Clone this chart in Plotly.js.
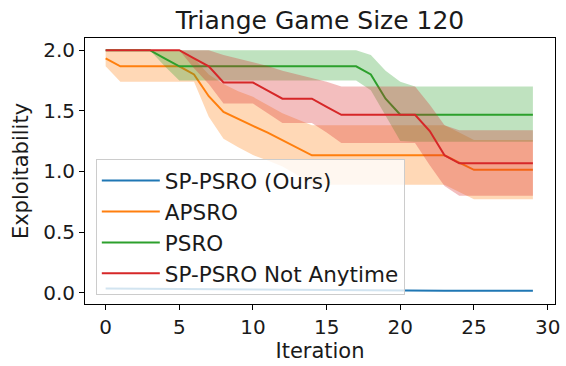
<!DOCTYPE html>
<html>
<head>
<meta charset="utf-8">
<script src="https://cdn.plot.ly/plotly-3.0.1.min.js"></script>
<style>
html,body{margin:0;padding:0;background:#fff;}
#chart{width:566px;height:366px;}
</style>
</head>
<body>
<div id="chart"></div>
<script>
const iterations = [0,1,2,3,4,5,6,7,8,9,10,11,12,13,14,15,16,17,18,19,20,21,22,23,24,25,26,27,28,29];

const spPsro = [0.034,0.033,0.032,0.031,0.030,0.029,0.028,0.027,0.026,0.025,0.024,0.023,0.022,0.021,0.020,0.019,0.018,0.017,0.017,0.017,0.017,0.017,0.017,0.017,0.017,0.017,0.017,0.017,0.017,0.017];

const apsro      = [1.933,1.867,1.867,1.867,1.867,1.867,1.80,1.62,1.49,1.43,1.375,1.32,1.26,1.20,1.133,1.133,1.133,1.133,1.133,1.133,1.133,1.133,1.133,1.133,1.073,1.013,1.013,1.013,1.013,1.013];
const apsroUpper = [2.0,2.0,2.0,2.0,2.0,2.0,1.93,1.80,1.72,1.66,1.615,1.55,1.48,1.43,1.38,1.38,1.38,1.38,1.38,1.38,1.38,1.38,1.38,1.38,1.32,1.26,1.26,1.26,1.26,1.26];
const apsroLower = [1.867,1.74,1.74,1.74,1.74,1.74,1.74,1.45,1.27,1.20,1.135,1.09,1.04,0.97,0.89,0.89,0.89,0.89,0.89,0.89,0.89,0.89,0.89,0.89,0.83,0.77,0.77,0.77,0.77,0.77];

const psro      = [2.0,2.0,2.0,2.0,1.933,1.867,1.867,1.867,1.867,1.867,1.867,1.867,1.867,1.867,1.867,1.867,1.867,1.867,1.80,1.60,1.467,1.467,1.467,1.467,1.467,1.467,1.467,1.467,1.467,1.467];
const psroUpper = [2.0,2.0,2.0,2.0,2.0,2.0,2.0,2.0,2.0,2.0,2.0,2.0,2.0,2.0,2.0,2.0,2.0,2.0,1.96,1.83,1.74,1.70,1.70,1.70,1.70,1.70,1.70,1.70,1.70,1.70];
const psroLower = [2.0,2.0,2.0,2.0,1.87,1.75,1.75,1.75,1.75,1.75,1.75,1.75,1.75,1.75,1.75,1.75,1.75,1.75,1.67,1.46,1.25,1.245,1.245,1.245,1.245,1.245,1.245,1.245,1.245,1.245];

const notAnytime      = [2.0,2.0,2.0,2.0,2.0,2.0,1.933,1.867,1.733,1.733,1.733,1.667,1.60,1.60,1.60,1.533,1.467,1.467,1.467,1.467,1.467,1.467,1.333,1.133,1.067,1.067,1.067,1.067,1.067,1.067];
const notAnytimeUpper = [2.0,2.0,2.0,2.0,2.0,2.0,2.0,2.0,1.96,1.93,1.90,1.87,1.83,1.80,1.77,1.74,1.70,1.70,1.70,1.70,1.70,1.70,1.55,1.38,1.34,1.34,1.34,1.34,1.34,1.34];
const notAnytimeLower = [2.0,2.0,2.0,2.0,2.0,2.0,1.85,1.72,1.56,1.56,1.56,1.48,1.40,1.40,1.40,1.32,1.235,1.235,1.235,1.235,1.235,1.235,1.05,0.88,0.80,0.80,0.80,0.80,0.80,0.80];

const seriesNames = ['SP-PSRO (Ours)','APSRO','PSRO','SP-PSRO Not Anytime'];
const xTickVals = [0,5,10,15,20,25,30];
const yTickVals = [0.0,0.5,1.0,1.5,2.0];
const yTickText = ['0.0','0.5','1.0','1.5','2.0'];

const FONT = 'DejaVu Sans, sans-serif';
const TXT = '#1a1a1a';

function band(lower, upper, fill){
  return [
    {x: iterations, y: lower, type:'scatter', mode:'lines', line:{width:0, color:'rgba(0,0,0,0)'}, showlegend:false, hoverinfo:'skip'},
    {x: iterations, y: upper, type:'scatter', mode:'lines', line:{width:0, color:'rgba(0,0,0,0)'}, fill:'tonexty', fillcolor:fill, showlegend:false, hoverinfo:'skip'}
  ];
}
function line(y, name, color){
  return {x: iterations, y: y, type:'scatter', mode:'lines', name: name, line:{color: color, width:2}};
}

const traces = [].concat(
  [line(spPsro, seriesNames[0], '#1f77b4')],
  band(apsroLower, apsroUpper, 'rgba(255,127,14,0.3)'),
  [line(apsro, seriesNames[1], '#ff7f0e')],
  band(psroLower, psroUpper, 'rgba(44,160,44,0.3)'),
  [line(psro, seriesNames[2], '#2ca02c')],
  band(notAnytimeLower, notAnytimeUpper, 'rgba(214,39,40,0.3)'),
  [line(notAnytime, seriesNames[3], '#d62728')]
);

const layout = {
  width: 566, height: 366,
  margin: {l:85, r:11, t:38, b:62, pad:0},
  paper_bgcolor:'#ffffff', plot_bgcolor:'#ffffff',
  font: {family: FONT, color: TXT, size: 20},
  title: {text:'Triange Game Size 120', font:{family:FONT, size:25, color:TXT}, x:0.5, xref:'paper', y:1-20/366, yref:'container', yanchor:'middle'},
  xaxis: {
    range:[-1.4, 30.5], tickmode:'array', tickvals:xTickVals,
    showgrid:false, zeroline:false, showline:true, linecolor:'#000', linewidth:1, mirror:true,
    ticks:'outside', ticklen:5, tickwidth:1, tickcolor:'#000',
    tickfont:{family:FONT, size:20, color:TXT},
    title:{text:'Iteration', font:{family:FONT, size:21, color:TXT}, standoff:1},
    automargin:false
  },
  yaxis: {
    range:[-0.093, 2.1], tickmode:'array', tickvals:yTickVals, ticktext:yTickText,
    showgrid:false, zeroline:false, showline:true, linecolor:'#000', linewidth:1, mirror:true,
    ticks:'outside', ticklen:5, tickwidth:1, tickcolor:'#000',
    tickfont:{family:FONT, size:20, color:TXT},
    title:{text:'Exploitability', font:{family:FONT, size:21, color:TXT}, standoff:8},
    automargin:false
  },
  legend: {
    x: 0.023, y: 0.545, xanchor:'left', yanchor:'top',
    bgcolor:'rgba(255,255,255,0.8)', bordercolor:'#cccccc', borderwidth:1,
    font:{family:FONT, size:21.5, color:TXT},
    itemwidth: 58, tracegroupgap: 0, traceorder:'normal'
  },
  showlegend: true
};

Plotly.newPlot('chart', traces, layout, {displayModeBar:false, staticPlot:true});
</script>
</body>
</html>
